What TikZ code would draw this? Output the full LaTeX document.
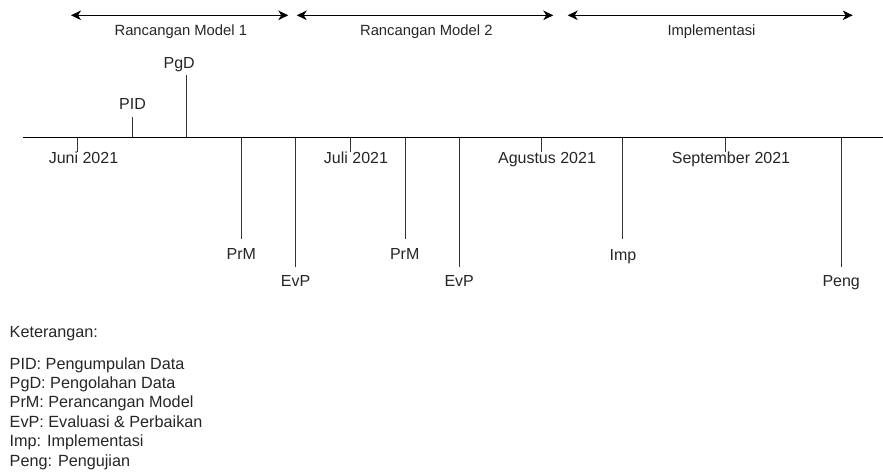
\documentclass[tikz,border=0pt]{standalone}
\usepackage{fontspec}
\setmainfont{Liberation Sans}
\usetikzlibrary{arrows.meta}
\tikzset{
  lbl/.style={inner sep=0pt, anchor=base, font=\fontsize{16}{19}\selectfont, text=black!85},
  toplbl/.style={inner sep=0pt, anchor=base, font=\fontsize{14.8}{18}\selectfont, text=black!85},
  leg/.style={inner sep=0pt, anchor=base west, font=\fontsize{16.2}{19.4}\selectfont, text=black!85},
  tick/.style={draw=black!80, line width=1pt},
  axis/.style={draw=black, line width=1.4pt},
  span/.style={draw=black, line width=1.4pt, {Stealth[length=10pt,width=9.5pt,inset=3pt]}-{Stealth[length=10pt,width=9.5pt,inset=3pt]}}
}
\begin{document}
\begin{tikzpicture}[x=1pt,y=-1pt]
\useasboundingbox (0,0) rectangle (883,473);
% span arrows
\coordinate (a1s) at (71,15.3);  \coordinate (a1e) at (288.3,15.3);
\coordinate (a2s) at (296.7,15.3); \coordinate (a2e) at (553.3,15.3);
\coordinate (a3s) at (567.7,15.3); \coordinate (a3e) at (852.7,15.3);
\draw[span] (a1s) -- (a1e);
\draw[span] (a2s) -- (a2e);
\draw[span] (a3s) -- (a3e);
\node[toplbl] (rm1) at (180.8,35.7) {Rancangan Model 1};
\node[toplbl] (rm2) at (426.3,35.7) {Rancangan Model 2};
\node[toplbl] (impl) at (711.5,35.7) {Implementasi};
% axis
\coordinate (ax0) at (23,137.7); \coordinate (ax1) at (883,137.7);
% month ticks
\foreach \n/\x in {jun/77.7, jul/350, agu/541, sep/725}{
  \coordinate (m\n a) at (\x,137.7);
  \coordinate (m\n b) at (\x,152);
  \draw[tick] (m\n a) -- (m\n b);
}
\node[lbl] (juni) at (83.5,164) {Juni 2021};
\node[lbl] (juli) at (356,164) {Juli 2021};
\node[lbl] (agus) at (547,164) {Agustus 2021};
\node[lbl] (sept) at (731,164) {September 2021};
% upward events
\coordinate (pida) at (132,137.7);  \coordinate (pidb) at (132,117.3);
\coordinate (pgda) at (186.7,137.7); \coordinate (pgdb) at (186.7,75);
\draw[tick] (pida) -- (pidb);
\draw[tick] (pgda) -- (pgdb);
\node[lbl] (pid) at (132.5,109.3) {PID};
\node[lbl] (pgd) at (179.2,68.3) {PgD};
% downward events
\foreach \n/\x/\y in {prm1/241/239.3, evp1/295.7/266.7, prm2/405/239.3, evp2/459.3/266.7, imp/622.7/239.3, peng/841/266.7}{
  \coordinate (\n a) at (\x,137.7);
  \coordinate (\n b) at (\x,\y);
  \draw[tick] (\n a) -- (\n b);
}
\draw[axis] (ax0) -- (ax1);
\node[lbl] (prm1) at (241.3,259.3) {PrM};
\node[lbl] (evp1) at (295.5,286.7) {EvP};
\node[lbl] (prm2) at (404.7,259.3) {PrM};
\node[lbl] (evp2) at (459.2,286.7) {EvP};
\node[lbl] (imp) at (623,260) {Imp};
\node[lbl] (peng) at (841.2,286.7) {Peng};
% legend
\node[leg] (ket) at (9.5,337) {Keterangan:};
\node[leg] (l1) at (9.5,369) {PID: Pengumpulan Data};
\node[leg] (l2) at (9.5,388.4) {PgD: Pengolahan Data};
\node[leg] (l3) at (9.5,407.8) {PrM: Perancangan Model};
\node[leg] (l4) at (9.5,427.2) {EvP: Evaluasi \& Perbaikan};
\node[leg] (l5) at (9.5,446.6) {Imp: Implementasi};
\node[leg] (l6) at (9.5,466) {Peng: Pengujian};
\end{tikzpicture}
\end{document}
